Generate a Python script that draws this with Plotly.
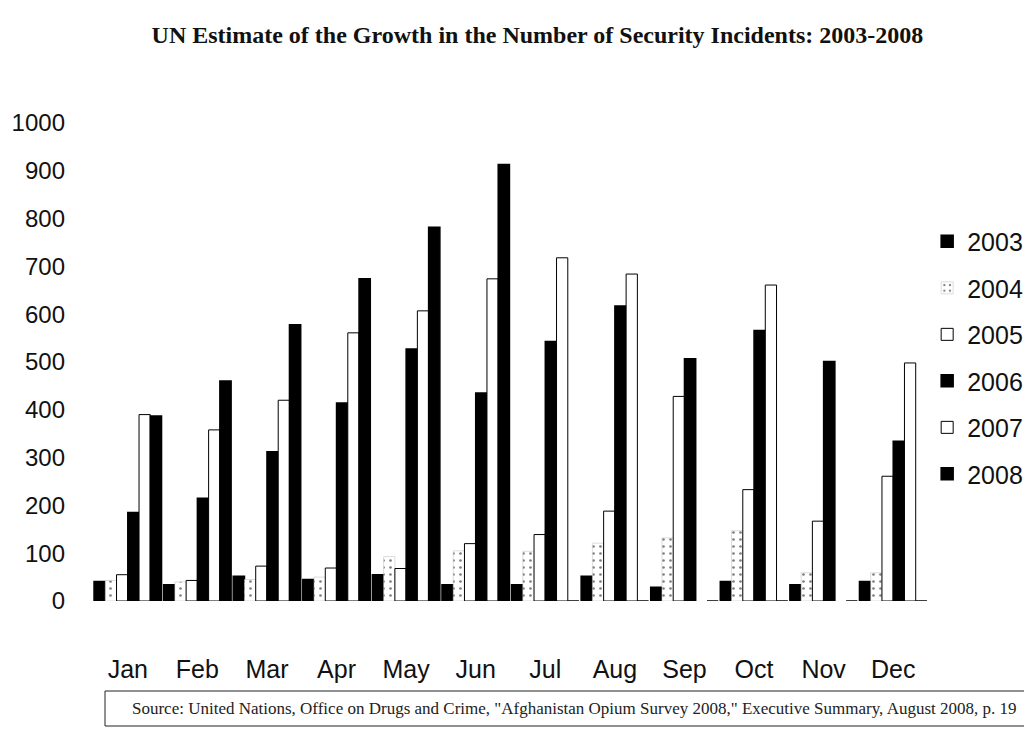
import plotly.graph_objects as go

months = ["Jan", "Feb", "Mar", "Apr", "May", "Jun", "Jul", "Aug", "Sep", "Oct", "Nov", "Dec"]
years = ["2003", "2004", "2005", "2006", "2007", "2008"]

v2003 = [41, 34, 52, 45, 55, 34, 34, 52, 29, 41, 34, 41]
v2004 = [43, 40, 45, 50, 93, 105, 104, 121, 132, 147, 59, 59]
v2005 = [55, 43, 73, 69, 68, 120, 139, 188, 428, 233, 167, 261]
v2006 = [185, 215, 312, 414, 527, 435, 543, 617, 507, 566, 501, 334]
v2007 = [390, 358, 420, 561, 607, 674, 718, 684, None, 661, None, 498]
v2008 = [387, 460, 578, 674, 782, 913, 0, 0, 0, 0, 0, 0]

yticks = [0, 100, 200, 300, 400, 500, 600, 700, 800, 900, 1000]

series = [v2003, v2004, v2005, v2006, v2007, v2008]
styles = {
    "2003": dict(color="#000000", line=dict(color="#000000", width=1.5)),
    "2004": dict(color="#ffffff", line=dict(color="#bbbbbb", width=0.5),
                 pattern=dict(shape=".", fgcolor="#000000", bgcolor="#ffffff", size=7, solidity=0.12)),
    "2005": dict(color="#ffffff", line=dict(color="#000000", width=1)),
    "2006": dict(color="#000000", line=dict(color="#000000", width=1.5)),
    "2007": dict(color="#ffffff", line=dict(color="#000000", width=1)),
    "2008": dict(color="#000000", line=dict(color="#000000", width=1.5)),
}

fig = go.Figure()
for yr, vals in zip(years, series):
    fig.add_trace(go.Bar(x=months, y=vals, name=yr, marker=styles[yr], legendgroup=yr))

fig.update_layout(
    width=1032, height=729,
    paper_bgcolor="white", plot_bgcolor="white",
    barmode="group", bargap=0.03, bargroupgap=0,
    margin=dict(l=85, r=112, t=115, b=136, autoexpand=False),
    title=dict(text="<b>UN Estimate of the Growth in the Number of Security Incidents: 2003-2008</b>",
               x=0.513, xanchor="center", y=0.963, yanchor="middle",
               font=dict(family="Liberation Serif", size=24, color="#111")),
    font=dict(family="Liberation Sans", color="#111"),
    legend=dict(x=0.999, y=0.80, xanchor="left", yanchor="top",
                font=dict(size=25, family="Liberation Sans"), tracegroupgap=11,
                itemwidth=30, bgcolor="rgba(0,0,0,0)"),
    showlegend=True,
)
fig.update_xaxes(showline=False, showgrid=False, ticks="", ticklabelstandoff=51, automargin=False,
                 tickfont=dict(size=25, family="Liberation Sans"))
fig.update_yaxes(range=[0, 1000], tickvals=yticks, showline=False, showgrid=False, automargin=False,
                 zeroline=False, ticks="", ticklabelstandoff=27,
                 tickfont=dict(size=24, family="Liberation Sans"))

fig.add_shape(type="rect", xref="paper", yref="paper",
              x0=(97 - 85) / 835, x1=(1021 - 85) / 835,
              y0=-(718 - 593) / 478, y1=-(683 - 593) / 478,
              line=dict(color="#222", width=1), fillcolor="rgba(0,0,0,0)")
fig.add_annotation(xref="paper", yref="paper", x=(566 - 85) / 835, y=-(700 - 593) / 478,
                   text='Source: United Nations, Office on Drugs and Crime, "Afghanistan Opium Survey 2008," Executive Summary, August 2008, p. 19',
                   showarrow=False, xanchor="center", yanchor="middle",
                   font=dict(family="Liberation Serif", size=17, color="#222"))

fig.write_html("out.html")
